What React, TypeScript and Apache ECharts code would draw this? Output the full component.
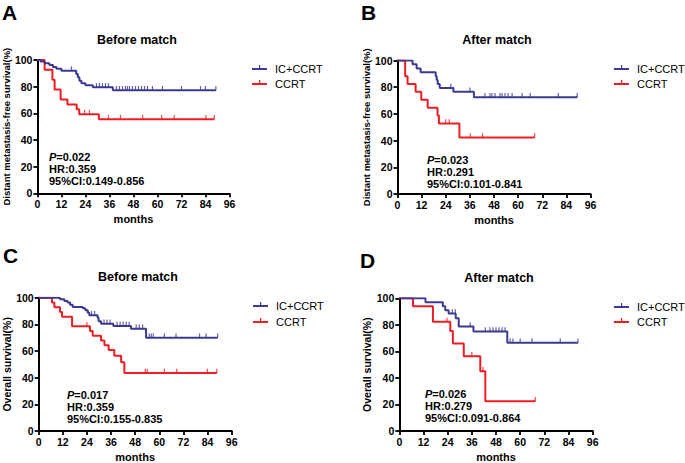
import React, { useEffect, useRef } from "react";
import * as echarts from "echarts";

// ---------- data ----------
const xTickLabels = [0, 12, 24, 36, 48, 60, 72, 84, 96];
const yTickLabels = [0, 20, 40, 60, 80, 100];
const panelLetters = ["A", "B", "C", "D"];
const panelTitles = ["Before match", "After match", "Before match", "After match"];
const yAxisNames = [
  "Distant metastasis-free survival(%)",
  "Distant metastasis-free survival(%)",
  "Overall survival(%)",
  "Overall survival(%)",
];
const xAxisName = "months";
const groupNames = ["IC+CCRT", "CCRT"];
const statP = ["0.022", "0.023", "0.017", "0.026"];
const statHR = ["0.359", "0.291", "0.359", "0.279"];
const statCI = ["0.149-0.856", "0.101-0.841", "0.155-0.835", "0.091-0.864"];

// Panel A: distant metastasis-free survival, before match
const aIcTime = [0, 1.6, 3.6, 6, 7.8, 9.5, 12, 19.4, 20.2, 21, 22, 24, 27.7, 37.7, 89.2];
const aIcSurv = [100, 98.8, 97.5, 96.2, 94.8, 93.5, 92, 89.5, 87, 84.5, 82.5, 81, 79.5, 77.3, 77.3];
const aIcCensor = [17, 29.5, 31, 32.5, 34, 35.5, 39.5, 41, 42.5, 44, 45, 46, 47.5, 49, 50.5, 52, 53.5, 55, 57.5, 62.5, 72, 81.5, 84, 89.2];
const aCcrtTime = [0, 3.6, 7.5, 8.6, 11.6, 15, 19.6, 20.9, 30.7, 88.4];
const aCcrtSurv = [100, 92.6, 85.2, 77.8, 70.4, 66.7, 63, 59.3, 55.6, 55.6];
const aCcrtCensor = [23.6, 26, 35.5, 41.5, 52.6, 62.1, 68.4, 84.2, 88.4];

// Panel B: distant metastasis-free survival, after match
const bIcTime = [0, 7.5, 9.5, 11.5, 19, 19.5, 20, 21, 27.8, 38, 89.4];
const bIcSurv = [100, 97.1, 94.1, 91.2, 88.2, 85.3, 82.4, 79.4, 76.5, 72.5, 72.5];
const bIcCensor = [26.5, 36, 43.5, 46, 47, 48.5, 51, 52, 53.5, 55, 57, 62, 66, 80, 89.4];
const bCcrtTime = [0, 3.8, 5, 9, 11.8, 15, 19.9, 20.6, 30.8, 68.2];
const bCcrtSurv = [100, 88.2, 82.4, 76.5, 70.6, 64.7, 58.8, 52.9, 42.3, 42.3];
const bCcrtCensor = [24, 25.7, 36.2, 42.3, 68.2];

// Panel C: overall survival, before match
const cIcTime = [0, 10.6, 12.8, 14.4, 15.6, 16.9, 21.9, 23.2, 24.4, 25.2, 29.3, 29.8, 31, 37.1, 45.9, 53.4, 89];
const cIcSurv = [100, 98.8, 97.6, 96.4, 94.8, 93, 92, 90.6, 88.8, 86.9, 84.9, 82.4, 80.4, 78.7, 76.8, 70, 70];
const cIcCensor = [26.3, 27.8, 32.5, 34, 35.5, 39, 40.5, 42, 43.5, 45, 48.5, 50, 51.7, 55, 56, 57, 62.5, 68.3, 80, 83.3, 89];
const cCcrtTime = [0, 6.6, 7.8, 10.6, 11.6, 16.6, 25.5, 26.9, 31, 32.7, 34.8, 37.6, 41, 42.6, 88.6];
const cCcrtSurv = [100, 96.4, 92.9, 89.3, 85.7, 78.6, 75, 71.4, 67.9, 64.3, 60.7, 56.4, 51.6, 43.5, 43.5];
const cCcrtCensor = [24, 53, 54, 62.5, 68.7, 83.9, 88.6];

// Panel D: overall survival, after match
const dIcTime = [0, 13, 21.6, 22.8, 24.5, 28, 29.5, 36.8, 53.6, 88.7];
const dIcSurv = [100, 97, 94, 91, 88.5, 85, 78.8, 75, 66.5, 66.5];
const dIcCensor = [26.3, 27.8, 35.2, 42.7, 45, 46.5, 48, 49.5, 51, 52.5, 55, 56.4, 60, 65.9, 79.9, 88.7];
const dCcrtTime = [0, 6.8, 16.7, 25.3, 26.6, 32, 40.2, 42.7, 67.5];
const dCcrtSurv = [100, 94.1, 82.4, 75.3, 65.9, 56.3, 45, 22.5, 22.5];
const dCcrtCensor = [23.7, 36, 41.5, 67.5];

// ---------- helpers ----------
const curves = [
  [
    { t: aIcTime, s: aIcSurv, c: aIcCensor },
    { t: aCcrtTime, s: aCcrtSurv, c: aCcrtCensor },
  ],
  [
    { t: bIcTime, s: bIcSurv, c: bIcCensor },
    { t: bCcrtTime, s: bCcrtSurv, c: bCcrtCensor },
  ],
  [
    { t: cIcTime, s: cIcSurv, c: cIcCensor },
    { t: cCcrtTime, s: cCcrtSurv, c: cCcrtCensor },
  ],
  [
    { t: dIcTime, s: dIcSurv, c: dIcCensor },
    { t: dCcrtTime, s: dCcrtSurv, c: dCcrtCensor },
  ],
];

function survAt(t: number[], s: number[], x: number) {
  let v = s[0];
  for (let i = 0; i < t.length; i++) if (t[i] <= x + 1e-9) v = s[i];
  return v;
}

const FONT = 'Arial, "Liberation Sans", Helvetica, sans-serif';
const COLORS = ["#3b3a8e", "#ee1d24"];

// layout (pixels)
const grids = [
  { left: 37, top: 60, width: 192.5, height: 133.3 },
  { left: 397.5, top: 60.5, width: 193, height: 133.5 },
  { left: 38.7, top: 297.7, width: 193, height: 134.3 },
  { left: 399.3, top: 298.3, width: 193.4, height: 133.7 },
];
const letterPos = [
  [2, 12],
  [361, 12],
  [3, 255],
  [360, 260],
];
const titlePos = [
  [137, 40],
  [497, 40],
  [138, 277],
  [499, 278],
];
const legendPos = [
  [252, 69, 84],
  [614, 69, 84],
  [253, 306, 322],
  [614, 307, 322],
];
const statPos = [
  [49, 157],
  [427, 160],
  [67, 395],
  [425, 394],
];
const yNameSize = [9.5, 9.5, 10.5, 10.5];

export default function App() {
  const ref = useRef<HTMLDivElement>(null);
  useEffect(() => {
    if (!ref.current) return;
    const chart = echarts.init(ref.current, null, { renderer: "svg" });

    const axisCommon = {
      axisLine: { show: true, lineStyle: { color: "#000", width: 2 } },
      axisTick: { show: true, length: 4, lineStyle: { color: "#000", width: 1.8 } },
      splitLine: { show: false },
      axisLabel: {
        color: "#000",
        fontFamily: FONT,
        fontWeight: "bold" as const,
        fontSize: 10.5,
        margin: 5,
      },
    };

    const xAxis = grids.map((_, i) => ({
      ...axisCommon,
      type: "value" as const,
      gridIndex: i,
      min: xTickLabels[0],
      max: xTickLabels[xTickLabels.length - 1],
      interval: xTickLabels[1] - xTickLabels[0],
      name: xAxisName,
      nameLocation: "middle" as const,
      nameGap: 20,
      nameTextStyle: { color: "#000", fontFamily: FONT, fontWeight: "bold" as const, fontSize: 11 },
    }));
    const yAxis = grids.map((_, i) => ({
      ...axisCommon,
      type: "value" as const,
      gridIndex: i,
      min: yTickLabels[0],
      max: yTickLabels[yTickLabels.length - 1],
      interval: yTickLabels[1] - yTickLabels[0],
      name: yAxisNames[i],
      nameLocation: "middle" as const,
      nameGap: 26,
      nameTextStyle: { color: "#000", fontFamily: FONT, fontWeight: "bold" as const, fontSize: yNameSize[i] },
    }));

    const series: any[] = [];
    curves.forEach((pair, p) => {
      pair.forEach((cv, g) => {
        series.push({
          type: "line",
          name: groupNames[g],
          xAxisIndex: p,
          yAxisIndex: p,
          step: "end",
          symbol: "none",
          lineStyle: { color: COLORS[g], width: 2 },
          z: 3 - g,
          data: cv.t.map((x, k) => [x, cv.s[k]]),
        });
        series.push({
          type: "scatter",
          name: groupNames[g] + " censored",
          xAxisIndex: p,
          yAxisIndex: p,
          symbol: "rect",
          symbolSize: [1.2, 4.5],
          symbolOffset: [0, -2],
          itemStyle: { color: COLORS[g] },
          z: 4,
          data: cv.c.map((x) => [x, survAt(cv.t, cv.s, x)]),
        });
      });
    });

    const graphic: any[] = [];
    for (let i = 0; i < 4; i++) {
      graphic.push({
        type: "text",
        x: letterPos[i][0],
        y: letterPos[i][1],
        style: {
          text: panelLetters[i],
          fill: "#000",
          font: `bold 21px ${FONT}`,
          textAlign: "left",
          textVerticalAlign: "middle",
          align: "left",
          verticalAlign: "middle",
        },
      });
      graphic.push({
        type: "text",
        x: titlePos[i][0],
        y: titlePos[i][1],
        style: {
          text: panelTitles[i],
          fill: "#000",
          font: `bold 12.5px ${FONT}`,
          textAlign: "center",
          textVerticalAlign: "middle",
          align: "center",
          verticalAlign: "middle",
        },
      });
      // legend
      for (let g = 0; g < 2; g++) {
        const lx = legendPos[i][0];
        const ly = legendPos[i][1 + g];
        graphic.push({
          type: "line",
          shape: { x1: lx, y1: ly, x2: lx + 15, y2: ly },
          style: { stroke: COLORS[g], lineWidth: 2 },
        });
        graphic.push({
          type: "rect",
          shape: { x: lx + 7, y: ly - 4, width: 1.2, height: 4 },
          style: { fill: COLORS[g] },
        });
        graphic.push({
          type: "text",
          x: lx + 23,
          y: ly,
          style: {
            text: groupNames[g],
            fill: "#000",
            font: `11px ${FONT}`,
            textAlign: "left",
            textVerticalAlign: "middle",
            align: "left",
            verticalAlign: "middle",
          },
        });
      }
      // stats
      const sx = statPos[i][0];
      const sy = statPos[i][1];
      graphic.push({
        type: "text",
        x: sx,
        y: sy,
        style: {
          text: "{it|P}{n|=" + statP[i] + "}",
          rich: {
            it: { fontStyle: "italic", fontWeight: "bold", fontSize: 11, fontFamily: FONT, fill: "#000", color: "#000" },
            n: { fontWeight: "bold", fontSize: 11, fontFamily: FONT, fill: "#000", color: "#000" },
          },
          fill: "#000",
          font: `bold 11px ${FONT}`,
          textAlign: "left",
          textVerticalAlign: "middle",
          align: "left",
          verticalAlign: "middle",
        },
      });
      graphic.push({
        type: "text",
        x: sx,
        y: sy + 12,
        style: {
          text: "HR:" + statHR[i],
          fill: "#000",
          font: `bold 11px ${FONT}`,
          textAlign: "left",
          textVerticalAlign: "middle",
          align: "left",
          verticalAlign: "middle",
        },
      });
      graphic.push({
        type: "text",
        x: sx,
        y: sy + 24,
        style: {
          text: "95%CI:" + statCI[i],
          fill: "#000",
          font: `bold 11px ${FONT}`,
          textAlign: "left",
          textVerticalAlign: "middle",
          align: "left",
          verticalAlign: "middle",
        },
      });
    }

    chart.setOption({
      animation: false,
      backgroundColor: "#fff",
      grid: grids.map((g) => ({ ...g, containLabel: false })),
      xAxis,
      yAxis,
      series,
      graphic,
    });
    return () => chart.dispose();
  }, []);

  return (
    <div
      ref={ref}
      style={{ position: "absolute", left: 0, top: 0, width: 685, height: 463 }}
    />
  );
}
